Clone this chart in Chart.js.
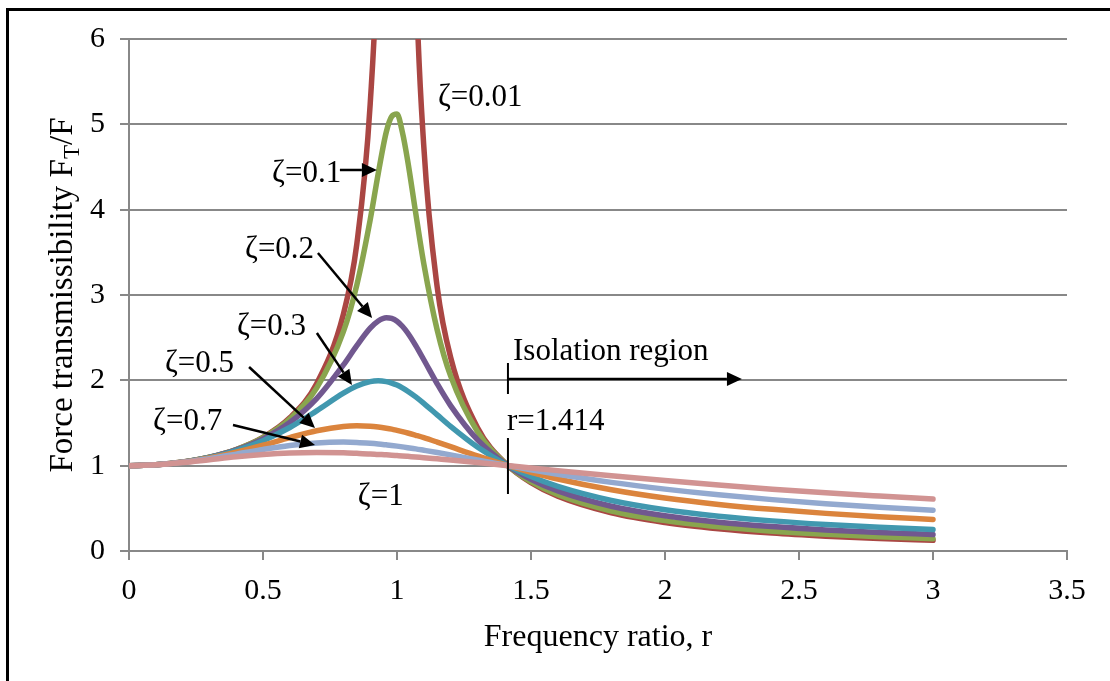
<!DOCTYPE html>
<html><head><meta charset="utf-8">
<script src="https://cdn.jsdelivr.net/npm/chart.js@4.4.0/dist/chart.umd.min.js"></script>
<style>
html,body{margin:0;padding:0;background:#fff;overflow:hidden;}
#wrap{position:relative;width:1110px;height:681px;}
#frame{position:absolute;left:6px;top:8px;right:-10px;bottom:-10px;border-left:3px solid #000;border-top:3px solid #000;pointer-events:none;}
canvas{display:block;}
</style></head><body>
<div id="wrap"><canvas id="c" width="1110" height="681"></canvas><div id="frame"></div></div>
<script>
// ---- data ----
const ratio = [0,0.1,0.2,0.3,0.4,0.5,0.6,0.7,0.8,0.85,0.9,0.93,0.96,0.98,1.0,1.02,1.04,1.07,1.1,1.15,1.2,1.3,1.414,1.5,1.6,1.8,2.0,2.2,2.4,2.6,2.8,3.0];
const zeta001 = [1,1.010,1.042,1.099,1.190,1.333,1.562,1.960,2.775,3.597,5.24,7.33,12.39,22.63,50.0,22.10,11.88,6.83,4.74,3.093,2.270,1.448,1.0,0.800,0.641,0.447,0.334,0.261,0.210,0.174,0.146,0.125];
const zeta01  = [1,1.010,1.042,1.099,1.189,1.328,1.547,1.909,2.571,3.117,3.882,4.425,4.910,5.090,5.120,4.908,4.571,3.957,3.367,2.590,2.052,1.401,1.0,0.812,0.659,0.469,0.356,0.283,0.232,0.195,0.167,0.145];
const zeta02  = [1,1.010,1.041,1.097,1.184,1.314,1.505,1.785,2.180,2.407,2.611,2.696,2.734,2.726,2.693,2.634,2.555,2.407,2.241,1.959,1.704,1.305,1.0,0.841,0.704,0.524,0.413,0.338,0.286,0.247,0.217,0.193];
const zeta03  = [1,1.010,1.041,1.095,1.177,1.293,1.447,1.642,1.849,1.933,1.985,1.995,1.985,1.968,1.944,1.912,1.873,1.806,1.730,1.595,1.460,1.218,1.0,0.873,0.757,0.592,0.483,0.408,0.353,0.311,0.278,0.251];
const zeta05  = [1,1.010,1.040,1.090,1.158,1.240,1.329,1.409,1.460,1.468,1.463,1.453,1.439,1.428,1.414,1.399,1.383,1.356,1.328,1.276,1.222,1.114,1.0,0.923,0.844,0.717,0.620,0.546,0.488,0.441,0.402,0.370];
const zeta07  = [1,1.010,1.039,1.082,1.135,1.190,1.237,1.267,1.276,1.272,1.262,1.254,1.244,1.237,1.229,1.220,1.211,1.197,1.181,1.154,1.126,1.067,1.0,0.952,0.899,0.804,0.725,0.658,0.602,0.554,0.513,0.478];
const zeta1   = [1,1.010,1.036,1.070,1.104,1.131,1.149,1.155,1.151,1.145,1.138,1.132,1.127,1.122,1.118,1.114,1.109,1.101,1.094,1.080,1.066,1.036,1.0,0.973,0.942,0.881,0.825,0.773,0.725,0.682,0.644,0.608];
const seriesNames = ['ζ=0.01','ζ=0.1','ζ=0.2','ζ=0.3','ζ=0.5','ζ=0.7','ζ=1'];
const seriesValues = [zeta001, zeta01, zeta02, zeta03, zeta05, zeta07, zeta1];
const seriesColors = ['#AA4643','#89A54E','#71588F','#4198AF','#DB843D','#93A9CF','#D19392'];
const xTitle = 'Frequency ratio, r';
const yTitleParts = ['Force transmissibility F', 'T', '/F'];

// annotation texts & arrows in data coordinates (r, T)
const noteTexts = [
  {t:'ζ=0.01', r:1.153, v:5.215},
  {t:'ζ=0.1',  r:0.534, v:4.324},
  {t:'ζ=0.2',  r:0.433, v:3.434},
  {t:'ζ=0.3',  r:0.403, v:2.531},
  {t:'ζ=0.5',  r:0.134, v:2.098},
  {t:'ζ=0.7',  r:0.090, v:1.418},
  {t:'ζ=1',    r:0.854, v:0.539},
  {t:'Isolation region', r:1.433, v:2.238},
  {t:'r=1.414', r:1.410, v:1.418}
];
const noteArrows = [
  [0.787,4.465, 0.925,4.465],
  [0.705,3.492, 0.907,2.731],
  [0.701,2.555, 0.832,1.945],
  [0.448,2.156, 0.694,1.441],
  [0.388,1.477, 0.694,1.242],
  [1.414,2.016, 2.287,2.016]
];
const noteLines = [
  [1.414,2.203, 1.414,1.840],
  [1.414,1.324, 1.414,0.668]
];

const SERIF = '"Liberation Serif","Times New Roman",serif';

const annotPlugin = {
  id:'annot',
  afterDatasetsDraw(chart){
    const ctx = chart.ctx, xs = chart.scales.x, ys = chart.scales.y;
    const X = r => xs.getPixelForValue(r), Y = v => ys.getPixelForValue(v);
    ctx.save();
    ctx.fillStyle = '#000'; ctx.strokeStyle = '#000';
    ctx.font = '31px ' + SERIF;
    ctx.textBaseline = 'alphabetic'; ctx.textAlign = 'left';
    noteTexts.forEach(n => ctx.fillText(n.t, X(n.r), Y(n.v)));
    ctx.lineWidth = 2;
    noteLines.forEach(l => { ctx.beginPath(); ctx.moveTo(X(l[0]),Y(l[1])); ctx.lineTo(X(l[2]),Y(l[3])); ctx.stroke(); });
    noteArrows.forEach(a => {
      const x1=X(a[0]), y1=Y(a[1]), x2=X(a[2]), y2=Y(a[3]);
      const ang = Math.atan2(y2-y1, x2-x1), hl = 15, hw = 7;
      const bx = x2 - hl*Math.cos(ang), by = y2 - hl*Math.sin(ang);
      ctx.lineWidth = 2.5;
      ctx.beginPath(); ctx.moveTo(x1,y1); ctx.lineTo(bx,by); ctx.stroke();
      ctx.beginPath();
      ctx.moveTo(x2,y2);
      ctx.lineTo(bx + hw*Math.sin(ang), by - hw*Math.cos(ang));
      ctx.lineTo(bx - hw*Math.sin(ang), by + hw*Math.cos(ang));
      ctx.closePath(); ctx.fill();
    });
    // axis titles
    const ca = chart.chartArea;
    ctx.font = '32px ' + SERIF;
    ctx.textAlign = 'center';
    ctx.fillText(xTitle, (ca.left+ca.right)/2, 646);
    // y title with subscript
    ctx.translate(72, (ca.top+ca.bottom)/2);
    ctx.rotate(-Math.PI/2);
    ctx.textAlign = 'left';
    const big = '33px ' + SERIF, small = '23px ' + SERIF;
    ctx.font = big; const w1 = ctx.measureText(yTitleParts[0]).width, w3 = ctx.measureText(yTitleParts[2]).width;
    ctx.font = small; const w2 = ctx.measureText(yTitleParts[1]).width;
    let x0 = -(w1+w2+w3)/2;
    ctx.font = big; ctx.fillText(yTitleParts[0], x0, 0);
    ctx.font = small; ctx.fillText(yTitleParts[1], x0+w1, 7);
    ctx.font = big; ctx.fillText(yTitleParts[2], x0+w1+w2, 0);
    ctx.restore();
  }
};

const datasets = seriesValues.map((vals, i) => ({
  label: seriesNames[i],
  data: ratio.map((r, k) => ({x: r, y: vals[k]})),
  borderColor: seriesColors[i],
  backgroundColor: seriesColors[i],
  borderWidth: 5.5,
  pointRadius: 0,
  borderCapStyle: 'round',
  borderJoinStyle: 'round',
  cubicInterpolationMode: 'monotone',
  fill: false,
  order: seriesValues.length - i
}));

new Chart(document.getElementById('c'), {
  type: 'line',
  data: { datasets },
  options: {
    responsive: false,
    animation: false,
    events: [],
    layout: { padding: { left: 0, right: 43, top: 39, bottom: 0 } },
    plugins: { legend: {display:false}, tooltip: {enabled:false}, title:{display:false} },
    scales: {
      x: {
        type: 'linear', min: 0, max: 3.5,
        ticks: { stepSize: 0.5, color:'#000', font:{family:SERIF, size:30}, padding: 13, maxRotation:0,
                 callback: v => String(Math.round(v*10)/10) },
        grid: { drawOnChartArea:false, drawTicks:true, tickLength:9, color:'#888', lineWidth:2 },
        border: { display:true, color:'#888', width:2 },
        afterFit(s){ s.height = 130; }
      },
      y: {
        type: 'linear', min: 0, max: 6,
        ticks: { stepSize: 1, color:'#000', font:{family:SERIF, size:30}, padding: 15 },
        grid: { color:'#888', lineWidth:2, tickLength:9 },
        border: { display:true, color:'#888', width:2 },
        afterFit(s){ s.width = 129; }
      }
    }
  },
  plugins: [annotPlugin]
});
</script>
</body></html>
